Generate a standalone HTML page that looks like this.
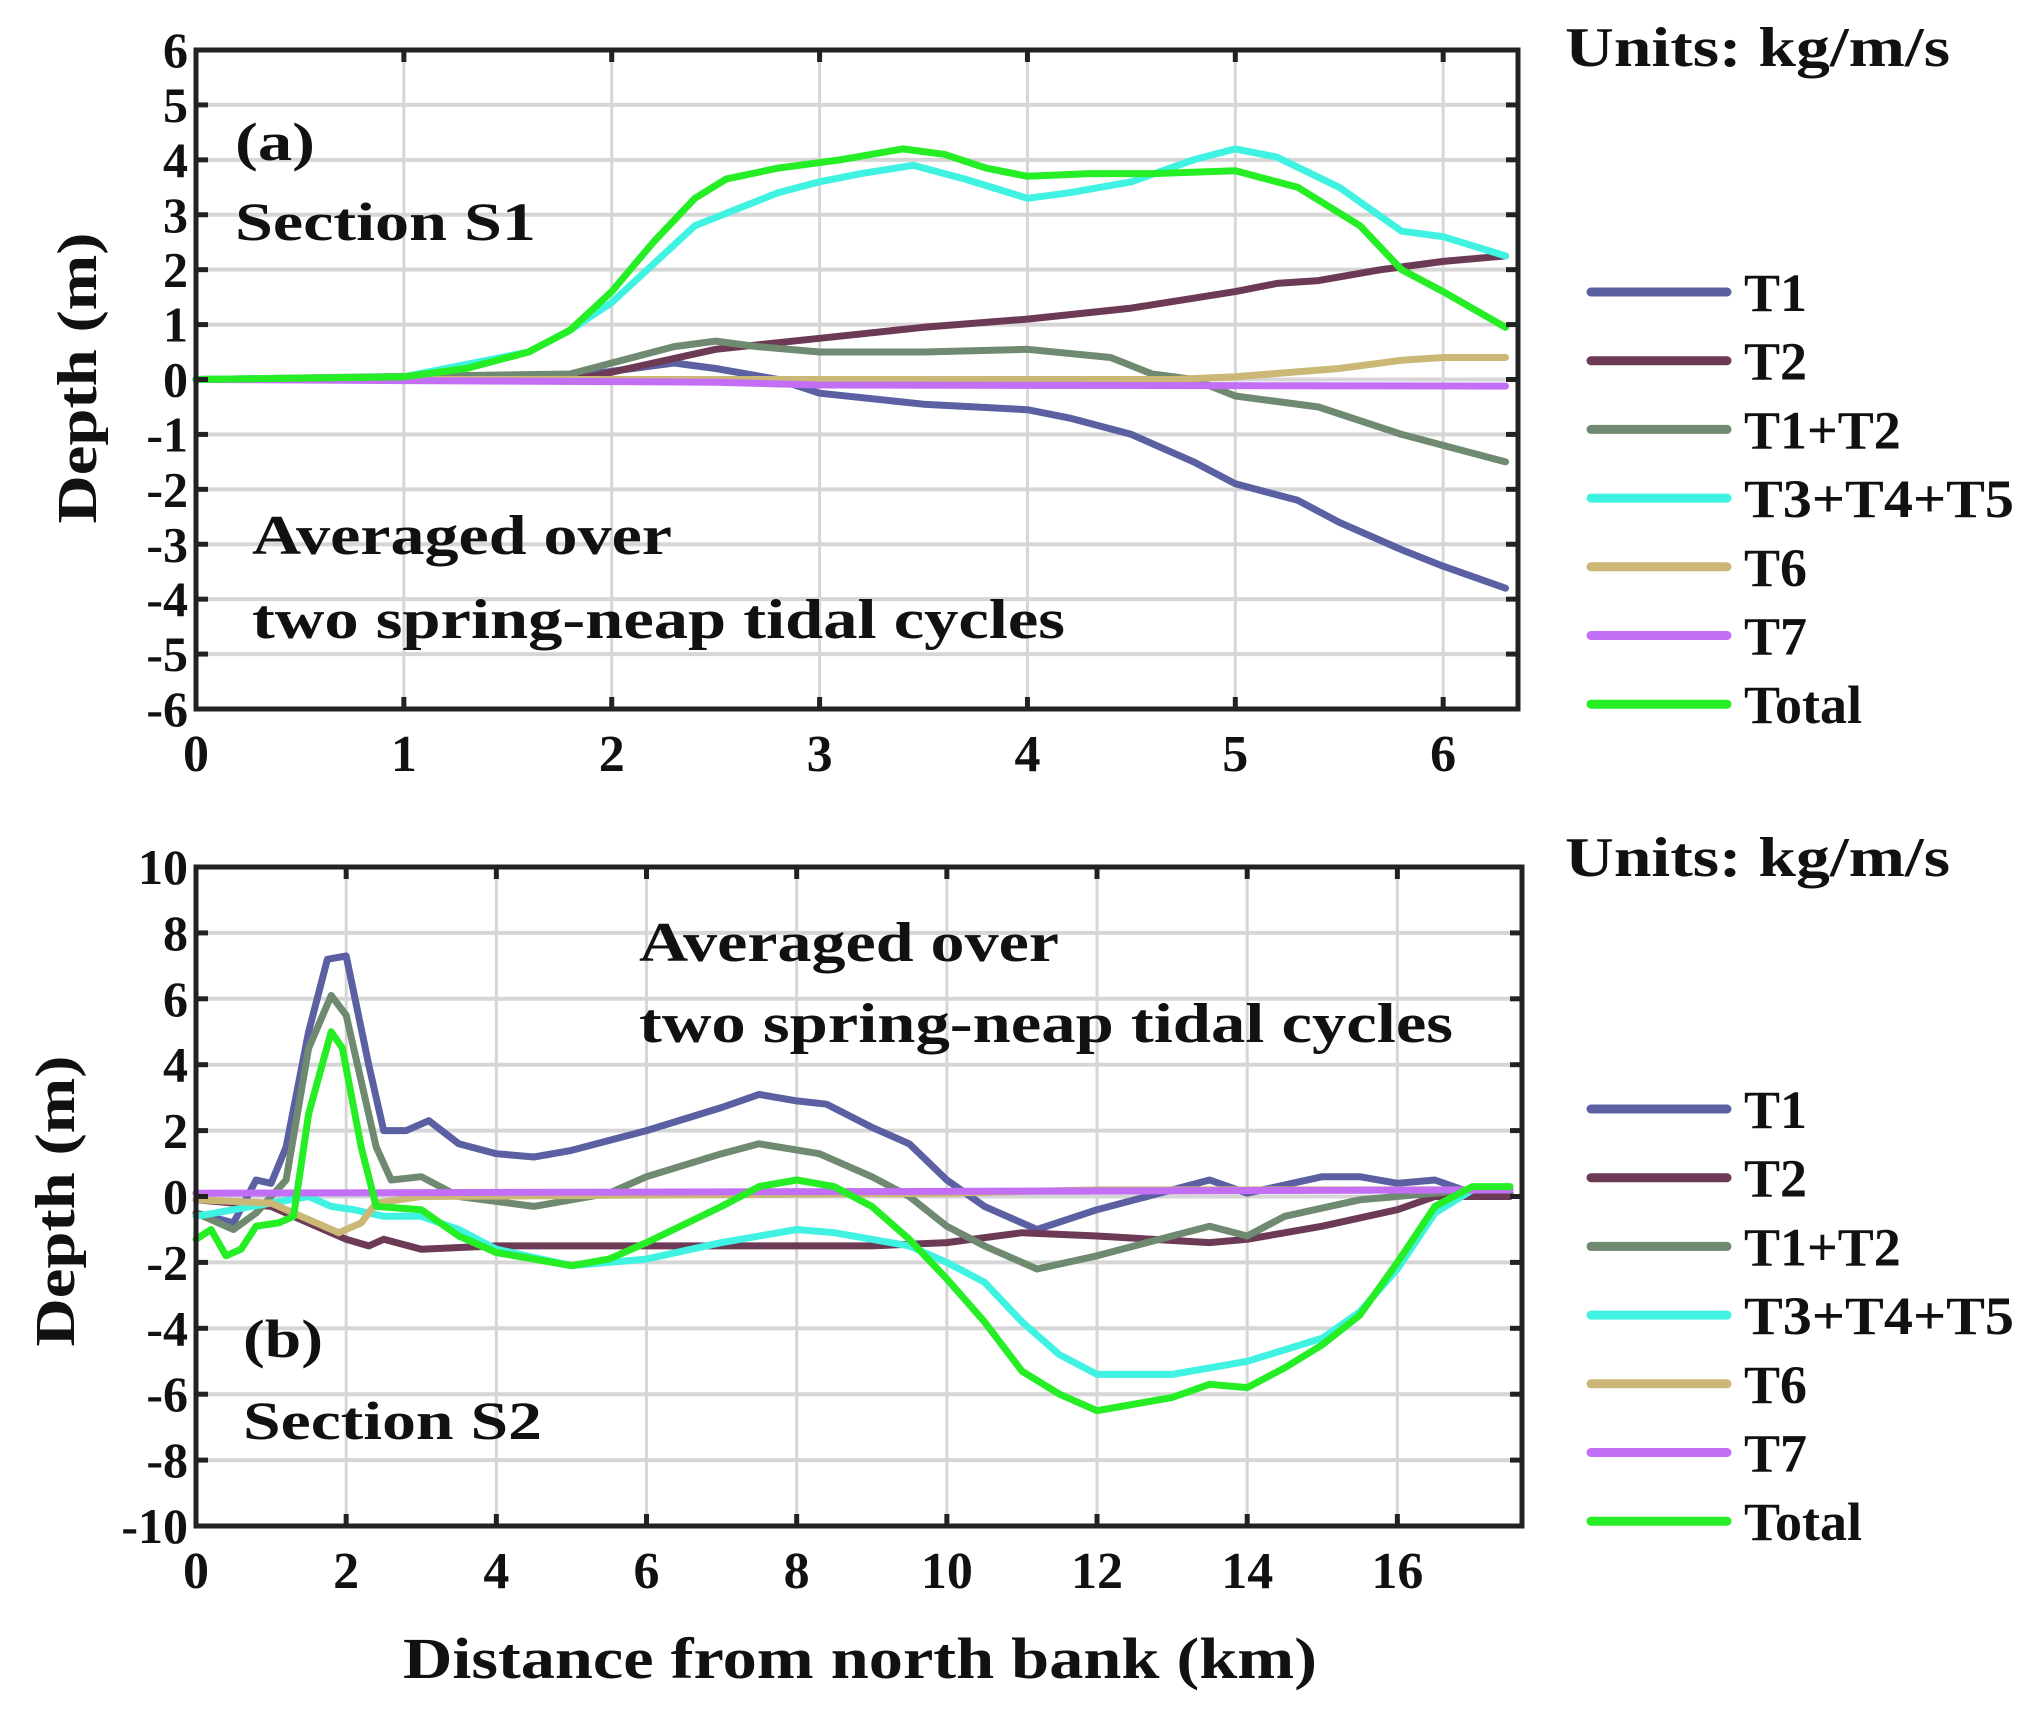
<!DOCTYPE html>
<html><head><meta charset="utf-8"><style>
html,body{margin:0;padding:0;background:#fff;}
svg{display:block;}
text{font-family:"Liberation Serif",serif;font-weight:bold;fill:#111;}
</style></head><body>
<svg id="chart" width="2025" height="1711" viewBox="0 0 2025 1711">
<rect width="2025" height="1711" fill="#fff"/>
<g id="pa"></g>
<g id="pb"></g>
</svg>
<script>
// ---------- Panel (a) data: Section S1 ----------
const seriesNames = ["T1","T2","T1+T2","T3+T4+T5","T6","T7","Total"];
const seriesColors = ["#5b60a3","#6d3a55","#6f8a70","#3ff2e2","#cbb776","#c36ff5","#25ee25"];
const aXTicks = [0,1,2,3,4,5,6];
const aYTicks = [-6,-5,-4,-3,-2,-1,0,1,2,3,4,5,6];
const aT1x = [0,1.8,2.3,2.5,2.8,3.0,3.5,4.0,4.2,4.5,4.8,5.0,5.3,5.5,5.8,6.0,6.3];
const aT1y = [0,0.05,0.3,0.2,0,-0.25,-0.45,-0.55,-0.7,-1.0,-1.5,-1.9,-2.2,-2.6,-3.1,-3.4,-3.8];
const aT2x = [0,1.9,2.2,2.5,3,3.5,4.0,4.5,5.0,5.2,5.4,5.7,6.0,6.3];
const aT2y = [0,0.05,0.3,0.55,0.75,0.95,1.1,1.3,1.6,1.75,1.8,2.0,2.15,2.25];
const aT12x = [0,1.8,2.0,2.3,2.5,2.7,3.0,3.5,4.0,4.4,4.6,4.8,5.0,5.4,5.8,6.3];
const aT12y = [0,0.1,0.3,0.6,0.7,0.6,0.5,0.5,0.55,0.4,0.1,0,-0.3,-0.5,-1.0,-1.5];
const aT345x = [0,1,1.6,1.8,2.0,2.2,2.4,2.6,2.8,3.0,3.2,3.45,3.7,4.0,4.2,4.5,4.8,5.0,5.2,5.5,5.8,6.0,6.3];
const aT345y = [0,0.05,0.5,0.9,1.4,2.1,2.8,3.1,3.4,3.6,3.75,3.9,3.65,3.3,3.4,3.6,4.0,4.2,4.05,3.5,2.7,2.6,2.25];
const aT6x = [0,4.7,5.0,5.5,5.8,6.0,6.3];
const aT6y = [0,0,0.05,0.2,0.35,0.4,0.4];
const aT7x = [0,2.5,3,6.3];
const aT7y = [0,-0.05,-0.1,-0.12];
const aTotx = [0,1,1.3,1.6,1.8,2.0,2.2,2.4,2.55,2.8,3.1,3.4,3.6,3.8,4.0,4.3,4.6,5.0,5.3,5.6,5.8,6.0,6.3];
const aToty = [0,0.05,0.2,0.5,0.9,1.6,2.5,3.3,3.65,3.85,4.0,4.2,4.1,3.85,3.7,3.75,3.75,3.8,3.5,2.8,2.0,1.6,0.95];

// ---------- Panel (b) data: Section S2 ----------
const bXTicks = [0,2,4,6,8,10,12,14,16];
const bYTicks = [-10,-8,-6,-4,-2,0,2,4,6,8,10];
const bT1x = [0,0.5,0.8,1.0,1.2,1.5,1.75,2.0,2.3,2.5,2.8,3.1,3.5,4.0,4.5,5.0,6,7,7.5,8,8.4,9,9.5,10,10.5,11.2,12,13,13.5,14,15,15.5,16,16.5,17,17.5];
const bT1y = [-0.5,-0.8,0.5,0.4,1.5,5,7.2,7.3,4,2.0,2.0,2.3,1.6,1.3,1.2,1.4,2.0,2.7,3.1,2.9,2.8,2.1,1.6,0.5,-0.3,-1.0,-0.4,0.2,0.5,0.1,0.6,0.6,0.4,0.5,0.1,0.1];
const bT2x = [0,1,1.5,2,2.3,2.5,3,4,6,8,9,10,11,12,13.5,14,15,16,16.5,17.5];
const bT2y = [-0.1,-0.3,-0.8,-1.3,-1.5,-1.3,-1.6,-1.5,-1.5,-1.5,-1.5,-1.4,-1.1,-1.2,-1.4,-1.3,-0.9,-0.4,0,0];
const bT12x = [0,0.5,0.8,1.2,1.5,1.8,2.0,2.4,2.6,3.0,3.5,4.5,5.5,6,7,7.5,8.3,9,9.5,10,10.5,11.2,12,13,13.5,14,14.5,15.5,16.5,17,17.5];
const bT12y = [-0.5,-1.0,-0.5,0.5,4.5,6.1,5.5,1.5,0.5,0.6,0,-0.3,0.1,0.6,1.3,1.6,1.3,0.6,0,-0.9,-1.5,-2.2,-1.8,-1.2,-0.9,-1.2,-0.6,-0.1,0.1,0.2,0.2];
const bT345x = [0,0.5,1.0,1.5,1.8,2.1,2.5,3,3.5,4,5,6,7,8,8.5,9.5,10,10.5,11,11.5,12,13,14,15,15.5,16,16.5,17,17.5];
const bT345y = [-0.6,-0.4,-0.2,0,-0.3,-0.4,-0.6,-0.6,-1.0,-1.6,-2.1,-1.9,-1.4,-1.0,-1.1,-1.5,-2.0,-2.6,-3.8,-4.8,-5.4,-5.4,-5.0,-4.3,-3.5,-2.2,-0.5,0.2,0.2];
const bT6x = [0,1,1.5,1.9,2.2,2.4,3,10,12,17.5];
const bT6y = [-0.1,-0.2,-0.7,-1.1,-0.8,-0.2,0,0.1,0.2,0.2];
const bT7x = [0,17.5];
const bT7y = [0.1,0.2];
const bTotx = [0,0.2,0.4,0.6,0.8,1.1,1.3,1.5,1.8,1.95,2.2,2.4,3,3.5,4,5,5.5,6,7,7.5,8,8.5,9,9.5,10,10.5,11,11.5,12,13,13.5,14,14.5,15,15.5,16,16.5,17,17.5];
const bToty = [-1.3,-1.0,-1.8,-1.6,-0.9,-0.8,-0.6,2.5,5.0,4.5,1.5,-0.3,-0.4,-1.2,-1.7,-2.1,-1.9,-1.4,-0.3,0.3,0.5,0.3,-0.3,-1.3,-2.5,-3.8,-5.3,-6.0,-6.5,-6.1,-5.7,-5.8,-5.2,-4.5,-3.6,-2.0,-0.3,0.3,0.3];

const NS = "http://www.w3.org/2000/svg";
function mk(parent, tag, attrs, txt){
  const e = document.createElementNS(NS, tag);
  for (const k in attrs) e.setAttribute(k, attrs[k]);
  if (txt !== undefined) e.textContent = txt;
  parent.appendChild(e);
  return e;
}
function panel(g, box, xmin, xmax, ymin, ymax, xt, yt, series, legendY0) {
  const X = v => box.l + (v - xmin) / (xmax - xmin) * (box.r - box.l);
  const Y = v => box.b - (v - ymin) / (ymax - ymin) * (box.b - box.t);
  xt.forEach(v => {
    const l = mk(g, "line", {x1:X(v), x2:X(v), y1:box.t, y2:box.b, stroke:"#d6d6d6", "stroke-width":3});
    
    
  });
  yt.forEach(v => {
    const l = mk(g, "line", {x1:box.l, x2:box.r, y1:Y(v), y2:Y(v), stroke:"#d6d6d6", "stroke-width":4});
    
    
  });
  series.forEach((s, i) => {
    const pts = s.x.map((xv, j) => X(xv).toFixed(1) + "," + Y(s.y[j]).toFixed(1)).join(" ");
    const p = mk(g, "polyline", {points:pts, fill:"none", stroke:seriesColors[i], "stroke-width":7, "stroke-linejoin":"round", "stroke-linecap":"round"});
    
    
  });
  const fr = mk(g, "rect", {x:box.l, y:box.t, width:box.r - box.l, height:box.b - box.t, fill:"none", stroke:"#222", "stroke-width":5});
  
  
  xt.forEach(v => {
    mk(g, "line", {x1:X(v), x2:X(v), y1:box.b, y2:box.b - 12, stroke:"#222", "stroke-width":5});
    mk(g, "line", {x1:X(v), x2:X(v), y1:box.t, y2:box.t + 12, stroke:"#222", "stroke-width":5});
    const t = mk(g, "text", {x:X(v), y:box.b + 62, "text-anchor":"middle", "font-size":52}, String(v));
    
    
  });
  yt.forEach(v => {
    mk(g, "line", {x1:box.l, x2:box.l + 12, y1:Y(v), y2:Y(v), stroke:"#222", "stroke-width":5});
    mk(g, "line", {x1:box.r, x2:box.r - 12, y1:Y(v), y2:Y(v), stroke:"#222", "stroke-width":5});
    const t = mk(g, "text", {x:box.l - 8, y:Y(v) + 17, "text-anchor":"end", "font-size":50}, String(v));
    
    
  });
  seriesNames.forEach((n, i) => {
    const y = legendY0 + i * 68.7;
    const l = mk(g, "line", {x1:1591, x2:1727, y1:y, y2:y, stroke:seriesColors[i], "stroke-width":9, "stroke-linecap":"round"});
    
    
    const t = mk(g, "text", {x:1744, y:y + 19, "font-size":54}, n);
    if (n === "T3+T4+T5") { t.setAttribute("textLength", 270); t.setAttribute("lengthAdjust", "spacingAndGlyphs"); }
    
    
  });
}

const aSeries = [
  {x:aT1x,y:aT1y},{x:aT2x,y:aT2y},{x:aT12x,y:aT12y},{x:aT345x,y:aT345y},
  {x:aT6x,y:aT6y},{x:aT7x,y:aT7y},{x:aTotx,y:aToty}];
const bSeries = [
  {x:bT1x,y:bT1y},{x:bT2x,y:bT2y},{x:bT12x,y:bT12y},{x:bT345x,y:bT345y},
  {x:bT6x,y:bT6y},{x:bT7x,y:bT7y},{x:bTotx,y:bToty}];

panel(document.getElementById("pa"), {l:196,r:1518,t:50,b:709}, 0, 6.36, -6, 6, aXTicks, aYTicks, aSeries, 292);
panel(document.getElementById("pb"), {l:196,r:1522,t:867,b:1526}, 0, 17.66, -10, 10, bXTicks, bYTicks, bSeries, 1109);

const svg = document.getElementById("chart");
function txt(x, y, s, size, name, len, extra) {
  const t = mk(svg, "text", Object.assign({x:x, y:y, "font-size":size}, extra || {}), s);
  if (len) { t.setAttribute("textLength", len); t.setAttribute("lengthAdjust", "spacingAndGlyphs"); }
  
  
  return t;
}
txt(1565, 66, "Units: kg/m/s", 56, "units-label-a", 385);
txt(1565, 876, "Units: kg/m/s", 56, "units-label-b", 385);
txt(235, 160, "(a)", 54, "panel-a-label", 80);
txt(235, 240, "Section S1", 54, "section-s1-label", 301);
txt(252, 554, "Averaged over", 56, "averaging-note-a-line1", 420);
txt(252, 638, "two spring-neap tidal cycles", 56, "averaging-note-a-line2", 813);
txt(639, 961, "Averaged over", 56, "averaging-note-b-line1", 420);
txt(639, 1042, "two spring-neap tidal cycles", 56, "averaging-note-b-line2", 814);
txt(243, 1357, "(b)", 54, "panel-b-label", 80);
txt(243, 1439, "Section S2", 54, "section-s2-label", 299);
txt(860, 1678, "Distance from north bank (km)", 58, "x-axis-title", 914, {"text-anchor":"middle"});
txt(0, 0, "Depth (m)", 56, "y-axis-title-a", 291, {"text-anchor":"middle", transform:"translate(96,378) rotate(-90)"});
txt(0, 0, "Depth (m)", 56, "y-axis-title-b", 291, {"text-anchor":"middle", transform:"translate(74,1201) rotate(-90)"});
</script>
</body></html>
